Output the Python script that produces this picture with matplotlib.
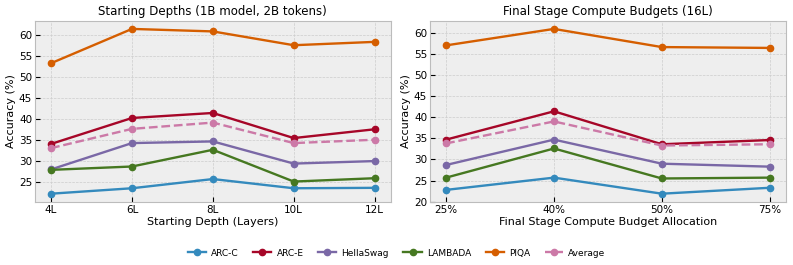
import matplotlib
matplotlib.use("Agg")
import matplotlib.pyplot as plt
from matplotlib.ticker import MultipleLocator

plt.style.use("bmh")

# Starting depths panel
depth_labels = ["4L", "6L", "8L", "10L", "12L"]
depth_arc_c = [22.1, 23.4, 25.6, 23.4, 23.5]
depth_arc_e = [34.0, 40.2, 41.4, 35.4, 37.5]
depth_hellaswag = [27.9, 34.2, 34.6, 29.3, 29.9]
depth_lambada = [27.8, 28.6, 32.6, 25.0, 25.8]
depth_piqa = [53.3, 61.5, 60.9, 57.6, 58.4]
depth_avg = [33.0, 37.6, 39.1, 34.2, 35.0]

# Final stage compute budget panel
budget_labels = ["25%", "40%", "50%", "75%"]
budget_arc_c = [22.8, 25.7, 21.9, 23.3]
budget_arc_e = [34.7, 41.4, 33.6, 34.6]
budget_hellaswag = [28.7, 34.7, 29.0, 28.3]
budget_lambada = [25.7, 32.6, 25.5, 25.7]
budget_piqa = [57.0, 60.9, 56.6, 56.4]
budget_avg = [33.8, 39.0, 33.3, 33.6]

names = ["ARC-C", "ARC-E", "HellaSwag", "LAMBADA", "PIQA", "Average"]
colors = ["#348ABD", "#A60628", "#7A68A6", "#467821", "#D55E00", "#CC79A7"]

fig, axes = plt.subplots(1, 2, figsize=(7.93, 2.65), dpi=100)
fig.patch.set_facecolor("white")


def draw(ax, labels, series, title, xlabel):
    x = list(range(len(labels)))
    for name, vals, c in zip(names, series, colors):
        ls = "--" if name == "Average" else "-"
        ax.plot(x, vals, ls, color=c, marker="o", markersize=4.5,
                linewidth=1.7, label=name)
    ax.set_xticks(x)
    ax.set_xticklabels(labels)
    ax.yaxis.set_major_locator(MultipleLocator(5))
    ax.set_title(title, fontsize=8.5, pad=4)
    ax.set_xlabel(xlabel, fontsize=8, labelpad=2)
    ax.set_ylabel("Accuracy (%)", fontsize=8, labelpad=2)
    ax.tick_params(labelsize=7.5, pad=2)
    ax.grid(True, linestyle="--", linewidth=0.5, color="#cccccc")


draw(axes[0], depth_labels,
     [depth_arc_c, depth_arc_e, depth_hellaswag, depth_lambada, depth_piqa, depth_avg],
     "Starting Depths (1B model, 2B tokens)", "Starting Depth (Layers)")
draw(axes[1], budget_labels,
     [budget_arc_c, budget_arc_e, budget_hellaswag, budget_lambada, budget_piqa, budget_avg],
     "Final Stage Compute Budgets (16L)", "Final Stage Compute Budget Allocation")

handles, lbls = axes[0].get_legend_handles_labels()
fig.legend(handles, lbls, loc="center", bbox_to_anchor=(0.5, 0.045), ncol=6,
           frameon=False, fontsize=6.5, handlelength=2.0, handletextpad=0.6,
           columnspacing=1.6)

fig.subplots_adjust(left=0.044, right=0.991, top=0.922, bottom=0.238, wspace=0.11)
fig.savefig("out.png", dpi=100, facecolor="white")
